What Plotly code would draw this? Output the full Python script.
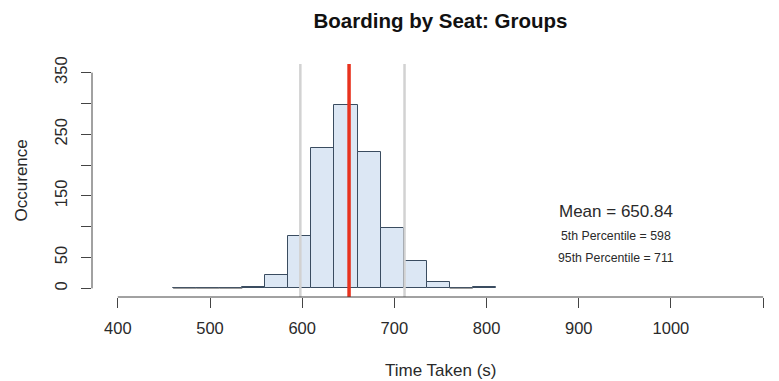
import numpy as np
import plotly.graph_objects as go

# Simulated boarding times, binned in 25 s intervals
bin_width = 25
bin_starts = [460, 485, 510, 535, 560, 585, 610, 635, 660, 685, 710, 735, 760, 785]
counts = [0, 0, 0, 2, 22, 85, 228, 298, 221, 98, 44, 10, 0, 2]

mean_time = 650.84
pct_5 = 598
pct_95 = 711

x_ticks = [400, 500, 600, 700, 800, 900, 1000, 1100]
y_ticks = [0, 50, 100, 150, 200, 250, 300, 350]
y_tick_text = ["0", "50", "", "150", "", "250", "", "350"]

FONT = "Liberation Sans, Arial, Helvetica, sans-serif"
AXIS_COL = "#444444"
TEXT_COL = "#2a2a2a"
X_RANGE = [372, 1117.2]
Y_RANGE = [-14, 364]

starts = np.array(bin_starts, dtype=float)
centers = starts + bin_width / 2
vals = np.array(counts, dtype=float)

fig = go.Figure()

fig.add_trace(go.Bar(
    x=centers, y=vals, width=bin_width,
    marker=dict(color="#dce7f4", line=dict(color="#3a4c60", width=1)),
    hoverinfo="x+y", showlegend=False,
))

# empty bins still show their outline along the baseline
zx, zy = [], []
for s, c in zip(starts, vals):
    if c == 0:
        zx += [s, s + bin_width, None]
        zy += [0, 0, None]
fig.add_trace(go.Scatter(x=zx, y=zy, mode="lines",
                         line=dict(color="#8a8a8a", width=1),
                         hoverinfo="skip", showlegend=False))

# invisible trace carrying the label axes
fig.add_trace(go.Scatter(x=[x_ticks[0]], y=[y_ticks[0]], xaxis="x2", yaxis="y2",
                         mode="markers", marker=dict(opacity=0),
                         hoverinfo="skip", showlegend=False))

shapes = []
for v in (pct_5, pct_95):
    shapes.append(dict(type="line", xref="x", yref="paper", x0=v, x1=v, y0=0, y1=1,
                       line=dict(color="#d2d2d2", width=2.5), layer="above"))
shapes.append(dict(type="line", xref="x", yref="paper", x0=mean_time, x1=mean_time,
                   y0=0, y1=1, line=dict(color="#e8321e", width=3.5), layer="above"))
# axis lines spanning only the tick range
shapes.append(dict(type="line", xref="x", yref="paper", x0=min(x_ticks), x1=max(x_ticks),
                   y0=0, y1=0, line=dict(color=AXIS_COL, width=1)))
shapes.append(dict(type="line", xref="paper", yref="y", x0=0, x1=0,
                   y0=min(y_ticks), y1=max(y_ticks), line=dict(color=AXIS_COL, width=1)))

annotations = [
    dict(x=940, y=125, xref="x", yref="y", text=f"Mean = {mean_time:.2f}",
         showarrow=False, font=dict(size=17, color=TEXT_COL, family=FONT)),
    dict(x=940, y=85, xref="x", yref="y", text=f"5th Percentile = {pct_5}",
         showarrow=False, font=dict(size=12.3, color=TEXT_COL, family=FONT)),
    dict(x=940, y=50, xref="x", yref="y", text=f"95th Percentile = {pct_95}",
         showarrow=False, font=dict(size=12.3, color=TEXT_COL, family=FONT)),
    dict(x=750, y=-0.315, xref="x", yref="paper", text="Time Taken (s)",
         showarrow=False, yanchor="middle",
         font=dict(size=17, color=TEXT_COL, family=FONT)),
    dict(x=-0.102, y=0.5, xref="paper", yref="paper", text="Occurence",
         showarrow=False, textangle=-90, xanchor="center", yanchor="middle",
         font=dict(size=17, color=TEXT_COL, family=FONT)),
]

tick_font = dict(size=16.5, color=TEXT_COL, family=FONT)

fig.update_layout(
    width=779, height=381,
    margin=dict(l=92, r=0, t=64, b=84),
    paper_bgcolor="white", plot_bgcolor="white",
    title=dict(text="<b>Boarding by Seat: Groups</b>", xref="container", x=440.5 / 779,
               xanchor="center", y=1 - 21 / 381, yanchor="middle",
               font=dict(size=20.5, color="#111111", family=FONT)),
    # tick marks
    xaxis=dict(range=X_RANGE, tickmode="array", tickvals=x_ticks,
               ticks="outside", ticklen=10, tickwidth=1, tickcolor=AXIS_COL,
               showticklabels=False,
               showgrid=False, zeroline=False, showline=False),
    yaxis=dict(range=Y_RANGE, tickmode="array", tickvals=y_ticks,
               ticks="outside", ticklen=10, tickwidth=1, tickcolor=AXIS_COL,
               showticklabels=False,
               showgrid=False, zeroline=False, showline=False),
    # tick labels, set further out from the plot
    xaxis2=dict(range=X_RANGE, overlaying="x", anchor="y", side="bottom",
                tickmode="array", tickvals=x_ticks,
                ticks="outside", ticklen=16, tickcolor="rgba(0,0,0,0)",
                showgrid=False, zeroline=False, showline=False, tickfont=tick_font),
    yaxis2=dict(range=Y_RANGE, overlaying="y", anchor="x", side="left",
                tickmode="array", tickvals=y_ticks, ticktext=y_tick_text,
                ticks="outside", ticklen=17, tickcolor="rgba(0,0,0,0)", tickangle=-90,
                showgrid=False, zeroline=False, showline=False, tickfont=tick_font),
    shapes=shapes,
    annotations=annotations,
    bargap=0,
)

fig.write_html("out.html")
